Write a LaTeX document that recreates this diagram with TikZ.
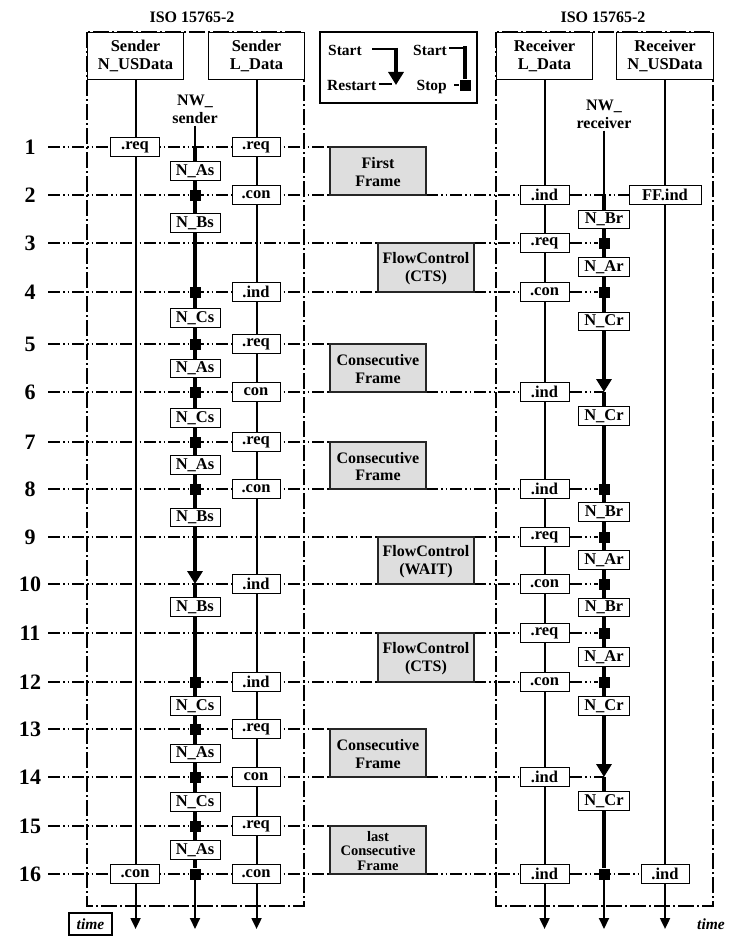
\documentclass[tikz,border=0pt]{standalone}
\usepackage{fontspec}
\setmainfont{Liberation Serif}
\usetikzlibrary{arrows.meta,backgrounds,fit}
\begin{document}
\begin{tikzpicture}[x=1pt,y=-1pt,
  txt/.style={font=\bfseries\fontsize{16}{18}\selectfont, align=center, inner sep=1pt},
  lgtxt/.style={font=\bfseries\fontsize{15.5}{18}\selectfont, inner sep=1pt},
  hdr/.style={draw, line width=1.1pt, fill=white, anchor=north west, minimum height=47pt, inner sep=0pt, align=center, font=\bfseries\fontsize{16.5}{18}\selectfont},
  ev/.style={draw, line width=1pt, fill=white, inner sep=0pt, minimum width=48pt, minimum height=19.5pt, font=\bfseries\fontsize{16.5}{17}\selectfont},
  tm/.style={ev, minimum width=50pt, minimum height=18.5pt},
  gbox/.style={draw=black!85, line width=2pt, fill=gray!26, inner sep=0pt, outer sep=0pt},
  gtxt/.style={align=center, inner sep=0pt, font=\bfseries\fontsize{16}{17.5}\selectfont},
  frame/.style={line width=1.2pt, dash pattern=on 16pt off 3pt on 2pt off 3pt},
  rowline/.style={line width=1.2pt, dash pattern=on 12pt off 3pt on 1.5pt off 3pt on 1.5pt off 3pt},
  life/.style={line width=1.9pt},
  timer/.style={line width=4.3pt},
  sq/.style={fill=black, minimum size=11pt, inner sep=0pt},
  endtip/.style={-{Triangle[width=10pt,length=11pt]}},
  rtip/.style={-{Triangle[width=15pt,length=13pt]}},
  rownum/.style={font=\bfseries\fontsize{22}{23}\selectfont, inner sep=0pt},
  timelbl/.style={font=\bfseries\itshape\fontsize{15.5}{16}\selectfont, inner sep=0pt}
]
\path[use as bounding box] (0,0) rectangle (746,942);

% column positions
\coordinate (cSN) at (135,0);
\coordinate (cNW) at (195,0);
\coordinate (cSL) at (256,0);
\coordinate (cRL) at (544.5,0);
\coordinate (cRW) at (604,0);
\coordinate (cRN) at (665,0);
\coordinate (gl) at (330,0);
\coordinate (gr) at (426,0);
\coordinate (fl) at (378,0);
\coordinate (fr) at (474,0);
\coordinate (tend) at (0,929);

% rows
\foreach \k/\yy in {1/147,2/195,3/243,4/292,5/344,6/392,7/442,8/489,9/537,10/584,11/633,12/682,13/729,14/777,15/826,16/874}{
  \node[rownum] (n\k) at (30,\yy) {\k};
  \coordinate (L\k) at (48,\yy);
}

% titles and headers
\node[txt] (iso1) at (192,17) {ISO 15765-2};
\node[txt] (iso2) at (603,17) {ISO 15765-2};
\node[hdr, minimum width=96pt] (hSN) at (87,32) {Sender\\N\_USData};
\node[hdr, minimum width=96pt] (hSL) at (208,32) {Sender\\L\_Data};
\node[hdr, minimum width=96pt] (hRL) at (496,32) {Receiver\\L\_Data};
\node[hdr, minimum width=97pt] (hRN) at (616,32) {Receiver\\N\_USData};

% legend
\node[draw, line width=1.1pt, inner sep=0pt, fit={(320,32)(477,103)}] (leg) {};
\node[lgtxt, anchor=west] (lg1) at (327,50) {Start};
\node[lgtxt, anchor=west] (lg2) at (326,86) {Restart};
\node[lgtxt, anchor=east] (lg3) at (448,50) {Start};
\node[lgtxt, anchor=east] (lg4) at (448,87) {Stop};
\coordinate (lgA) at (396,49);
\coordinate (lgB) at (396,85);
\coordinate (lgC) at (465,48);
\draw[line width=1.3pt] (372,49) -- (lgA);
\draw[timer, rtip] (396,48) -- (lgB);
\draw[line width=1.3pt] (379,84) -- (392,84);
\node[sq] (lgsq) at (465,85) {};
\draw[line width=1.3pt] (449,48) -- (lgC);
\draw[timer] (465,46.5) -- (lgsq);
\draw[line width=1.3pt] (454,85) -- (lgsq.west);

% NW labels
\node[txt, inner sep=2pt] (nws) at (195,109) {NW\_\\sender};
\node[txt, inner sep=2pt] (nwr) at (604,114) {NW\_\\receiver};

% event boxes
\node[ev, minimum width=49pt] (sn1) at (cSN|-L1) {.req};
\node[ev, minimum width=49pt] (sn16) at (cSN|-L16) {.con};
\foreach \k/\t in {1/.req,2/.con,4/.ind,5/.req,6/con,7/.req,8/.con,10/.ind,12/.ind,13/.req,14/con,15/.req,16/.con}{
  \node[ev] (sl\k) at (cSL|-L\k) {\t};
}
\foreach \k/\t in {2/.ind,3/.req,4/.con,6/.ind,8/.ind,9/.req,10/.con,11/.req,12/.con,14/.ind,16/.ind}{
  \node[ev, minimum width=49pt] (rl\k) at (cRL|-L\k) {\t};
}
\node[ev, minimum width=72pt] (rn2) at (cRN|-L2) {FF.ind};
\node[ev] (rn16) at (cRN|-L16) {.ind};

% timer markers
\foreach \k in {2,4,5,6,7,8,12,13,14,15,16}{ \node[sq] (sw\k) at (cNW|-L\k) {}; }
\foreach \k in {1,10}{ \coordinate (sw\k) at (cNW|-L\k); }
\foreach \k in {3,4,8,9,10,11,12,16}{ \node[sq] (rw\k) at (cRW|-L\k) {}; }
\foreach \k in {2,6,14}{ \coordinate (rw\k) at (cRW|-L\k); }

% timer boxes
\foreach \n/\yy/\t in {ta1/171/N\_As, tb2/223/N\_Bs, tc4/318/N\_Cs, ta5/368.5/N\_As, tc6/418/N\_Cs, ta7/465/N\_As, tb8/517.5/N\_Bs, tb10/607/N\_Bs, tc12/706/N\_Cs, ta13/753.5/N\_As, tc14/802/N\_Cs, ta15/850/N\_As}{
  \node[tm] (\n) at (195,\yy) {\t};
}
\foreach \n/\yy/\t in {rb2/219.5/N\_Br, ra3/267/N\_Ar, rc4/321.5/N\_Cr, rc6/416/N\_Cr, rb8/512/N\_Br, ra9/560/N\_Ar, rb10/607.5/N\_Br, ra11/657/N\_Ar, rc12/706/N\_Cr, rc14/801/N\_Cr}{
  \node[tm, minimum width=51pt] (\n) at (604,\yy) {\t};
}

% frame boxes
\node[gbox, fit={(gl|-L1)(gr|-L2)}] (g1) {};
\node[gbox, fit={(fl|-L3)(fr|-L4)}] (g2) {};
\node[gbox, fit={(gl|-L5)(gr|-L6)}] (g3) {};
\node[gbox, fit={(gl|-L7)(gr|-L8)}] (g4) {};
\node[gbox, fit={(fl|-L9)(fr|-L10)}] (g5) {};
\node[gbox, fit={(fl|-L11)(fr|-L12)}] (g6) {};
\node[gbox, fit={(gl|-L13)(gr|-L14)}] (g7) {};
\node[gbox, fit={(gl|-L15)(gr|-L16)}] (g8) {};
\node[gtxt] (g1t) at ([yshift=-1pt]g1.center) {First\\Frame};
\node[gtxt] (g2t) at ([yshift=-1pt]g2.center) {FlowControl\\(CTS)};
\node[gtxt] (g3t) at ([yshift=-1pt]g3.center) {Consecutive\\Frame};
\node[gtxt] (g4t) at ([yshift=-1pt]g4.center) {Consecutive\\Frame};
\node[gtxt] (g5t) at ([yshift=-1pt]g5.center) {FlowControl\\(WAIT)};
\node[gtxt] (g6t) at ([yshift=-1pt]g6.center) {FlowControl\\(CTS)};
\node[gtxt] (g7t) at ([yshift=-1pt]g7.center) {Consecutive\\Frame};
\node[gtxt, font=\bfseries\fontsize{14.5}{14.5}\selectfont] (g8t) at ([yshift=-1pt]g8.center) {last\\Consecutive\\Frame};

% time labels
\node[draw, line width=1.1pt, timelbl, minimum width=43pt, minimum height=22pt] (tl) at (90.5,924) {time};
\node[timelbl] (tr) at (711,924) {time};

\begin{pgfonlayer}{background}
\draw[frame] (87,32) rectangle (304,906);
\draw[frame] (496,32) rectangle (713,906);
\draw[rowline] (L1) -- (g1.north west);
\draw[rowline] (L2) -- (g1.south west) (g1.south east) -- (rn2);
\draw[rowline] (L3) -- (g2.north west) (g2.north east) -- (rw3);
\draw[rowline] (L4) -- (g2.south west) (g2.south east) -- (rw4);
\draw[rowline] (L5) -- (g3.north west);
\draw[rowline] (L6) -- (g3.south west) (g3.south east) -- (rw6);
\draw[rowline] (L7) -- (g4.north west);
\draw[rowline] (L8) -- (g4.south west) (g4.south east) -- (rw8);
\draw[rowline] (L9) -- (g5.north west) (g5.north east) -- (rw9);
\draw[rowline] (L10) -- (g5.south west) (g5.south east) -- (rw10);
\draw[rowline] (L11) -- (g6.north west) (g6.north east) -- (rw11);
\draw[rowline] (L12) -- (g6.south west) (g6.south east) -- (rw12);
\draw[rowline] (L13) -- (g7.north west);
\draw[rowline] (L14) -- (g7.south west) (g7.south east) -- (rw14);
\draw[rowline] (L15) -- (g8.north west);
\draw[rowline] (L16) -- (g8.south west) (g8.south east) -- (rn16);
\draw[life, endtip] (hSN.south) -- (hSN.south |- tend);
\draw[life, endtip] (hSL.south) -- (hSL.south |- tend);
\draw[life, endtip] (hRL.south) -- (hRL.south |- tend);
\draw[life, endtip] (hRN.south) -- (hRN.south |- tend);
\draw[life] (nws.south) -- (sw1);
\draw[timer, rtip] (sw1) -- (sw10);
\draw[timer] (sw10) -- (sw16);
\draw[life, endtip] (sw16) -- (cNW|-tend);
\draw[life] (nwr.south) -- (rw2);
\draw[timer, rtip] (rw2) -- (rw6);
\draw[timer, rtip] (rw6) -- (rw14);
\draw[timer] (rw14) -- (rw16);
\draw[life, endtip] (rw16) -- (cRW|-tend);
\end{pgfonlayer}
\end{tikzpicture}
\end{document}
